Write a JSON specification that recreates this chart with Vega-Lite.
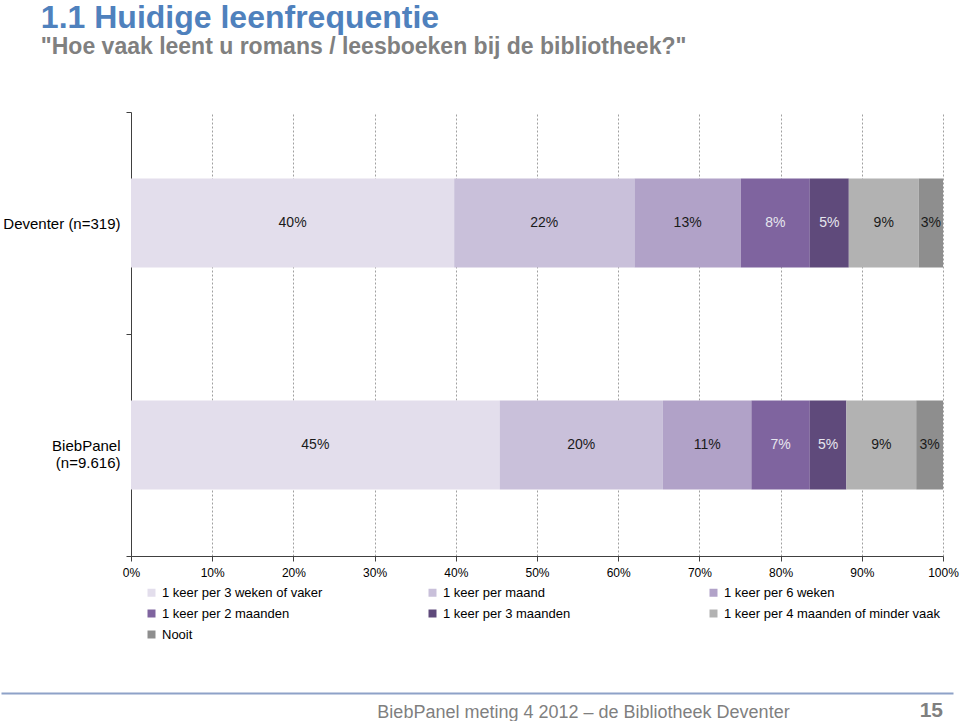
{
  "$schema": "https://vega.github.io/schema/vega-lite/v6.json",
  "padding": {"left": 2, "top": 2, "right": 0, "bottom": 0},
  "background": "white",
  "title": {
    "text": "1.1 Huidige leenfrequentie",
    "subtitle": "\"Hoe vaak leent u romans / leesboeken bij de bibliotheek?\"",
    "anchor": "start",
    "dx": 38,
    "offset": 45,
    "font": "Liberation Sans",
    "fontSize": 32,
    "fontWeight": "bold",
    "color": "#4F81BD",
    "subtitleFont": "Liberation Sans",
    "subtitleFontSize": 23,
    "subtitleFontWeight": "bold",
    "subtitleColor": "#808080",
    "subtitlePadding": 1
  },
  "spacing": 50,
  "resolve": {"legend": {"color": "independent"}},
  "vconcat": [
    {
      "width": 812,
      "height": 444,
      "data": {
        "values": [
          {"group": "Deventer (n=319)", "answer": "1 keer per 3 weken of vaker", "order": 1, "value": 39.8, "label": "40%"},
          {"group": "Deventer (n=319)", "answer": "1 keer per maand", "order": 2, "value": 22.2, "label": "22%"},
          {"group": "Deventer (n=319)", "answer": "1 keer per 6 weken", "order": 3, "value": 13.1, "label": "13%"},
          {"group": "Deventer (n=319)", "answer": "1 keer per 2 maanden", "order": 4, "value": 8.5, "label": "8%"},
          {"group": "Deventer (n=319)", "answer": "1 keer per 3 maanden", "order": 5, "value": 4.8, "label": "5%"},
          {"group": "Deventer (n=319)", "answer": "1 keer per 4 maanden of minder vaak", "order": 6, "value": 8.6, "label": "9%"},
          {"group": "Deventer (n=319)", "answer": "Nooit", "order": 7, "value": 3.0, "label": "3%"},
          {"group": "BiebPanel (n=9.616)", "answer": "1 keer per 3 weken of vaker", "order": 1, "value": 45.4, "label": "45%"},
          {"group": "BiebPanel (n=9.616)", "answer": "1 keer per maand", "order": 2, "value": 20.1, "label": "20%"},
          {"group": "BiebPanel (n=9.616)", "answer": "1 keer per 6 weken", "order": 3, "value": 10.9, "label": "11%"},
          {"group": "BiebPanel (n=9.616)", "answer": "1 keer per 2 maanden", "order": 4, "value": 7.2, "label": "7%"},
          {"group": "BiebPanel (n=9.616)", "answer": "1 keer per 3 maanden", "order": 5, "value": 4.5, "label": "5%"},
          {"group": "BiebPanel (n=9.616)", "answer": "1 keer per 4 maanden of minder vaak", "order": 6, "value": 8.6, "label": "9%"},
          {"group": "BiebPanel (n=9.616)", "answer": "Nooit", "order": 7, "value": 3.3, "label": "3%"}
        ]
      },
      "transform": [
        {"stack": "value", "groupby": ["group"], "sort": [{"field": "order", "order": "ascending"}], "offset": "normalize", "as": ["x0", "x1"]}
      ],
      "encoding": {
        "y": {
          "field": "group",
          "type": "nominal",
          "sort": ["Deventer (n=319)", "BiebPanel (n=9.616)"],
          "scale": {"paddingInner": 0, "paddingOuter": 0},
          "axis": {
            "title": null,
            "domainColor": "#404040",
            "tickColor": "#404040",
            "tickSize": 5,
            "tickBand": "extent",
            "labelFont": "Liberation Sans",
            "labelFontSize": 15,
            "labelColor": "#000000",
            "labelPadding": 6,
            "labelLimit": 200,
            "labelLineHeight": 17,
            "labelExpr": "datum.value == 'BiebPanel (n=9.616)' ? ['BiebPanel', '(n=9.616)'] : datum.value"
          }
        }
      },
      "layer": [
        {
          "mark": {"type": "bar", "height": {"band": 0.4}},
          "encoding": {
            "x": {
              "field": "x0",
              "type": "quantitative",
              "scale": {"domain": [0, 1], "nice": false},
              "axis": {
                "title": null,
                "format": ".0%",
                "values": [0, 0.1, 0.2, 0.3, 0.4, 0.5, 0.6, 0.7, 0.8, 0.9, 1],
                "grid": true,
                "gridDash": [2, 2],
                "gridColor": "#A0A0A0",
                "domainColor": "#404040",
                "tickColor": "#404040",
                "tickSize": 5,
                "labelFont": "Liberation Sans",
                "labelFontSize": 12,
                "labelColor": "#000000",
                "labelPadding": 6,
                "labelFlush": false
              }
            },
            "x2": {"field": "x1"},
            "color": {
              "field": "answer",
              "type": "nominal",
              "scale": {
                "domain": ["1 keer per 3 weken of vaker", "1 keer per maand", "1 keer per 6 weken", "1 keer per 2 maanden", "1 keer per 3 maanden", "1 keer per 4 maanden of minder vaak", "Nooit"],
                "range": ["#E3DEEC", "#C9C0DA", "#B1A2C8", "#7F649F", "#5F4A7B", "#B2B2B2", "#8E8E8E"]
              },
              "legend": {
                "orient": "none",
                "legendX": 14,
                "legendY": 474,
                "direction": "horizontal",
                "columns": 3,
                "title": null,
                "symbolType": "square",
                "symbolSize": 64,
                "symbolStrokeWidth": 0,
                "symbolOpacity": 1,
                "labelFont": "Liberation Sans",
                "labelFontSize": 13,
                "labelColor": "#000000",
                "labelOffset": 4,
                "labelLimit": 300,
                "columnPadding": 47,
                "rowPadding": 7,
                "gridAlign": "all"
              }
            }
          }
        },
        {
          "transform": [
            {"fold": ["x0", "x1"], "as": ["edge", "pos"]},
            {"aggregate": [{"op": "mean", "field": "pos", "as": "mid"}], "groupby": ["group", "answer", "label"]}
          ],
          "mark": {"type": "text", "font": "Liberation Sans", "fontSize": 14},
          "encoding": {
            "x": {"field": "mid", "type": "quantitative"},
            "text": {"field": "label"},
            "color": {
              "condition": {"test": "datum.answer == '1 keer per 2 maanden' || datum.answer == '1 keer per 3 maanden'", "value": "#E6E6EE"},
              "value": "#1A1A1A"
            }
          }
        }
      ]
    },
    {
      "width": 812,
      "height": 1,
      "data": {"values": []},
      "mark": {"type": "point", "opacity": 0},
      "encoding": {
        "x": {
          "field": "v",
          "type": "quantitative",
          "scale": {"domain": [0, 1], "nice": false, "range": [-130, 822]},
          "axis": {
            "orient": "bottom",
            "domainColor": "#8EA2C8",
            "domainWidth": 2,
            "ticks": false,
            "labels": false,
            "grid": false,
            "title": "BiebPanel meting 4 2012 – de Bibliotheek Deventer",
            "titleFont": "Liberation Sans",
            "titleFontSize": 18,
            "titleFontWeight": "normal",
            "titleColor": "#7F7F7F",
            "titleX": 452,
            "titleAnchor": "middle",
            "titlePadding": 10
          }
        }
      },
      "title": {
        "text": "15",
        "orient": "bottom",
        "anchor": "end",
        "frame": "group",
        "font": "Liberation Sans",
        "fontSize": 21,
        "fontWeight": "bold",
        "color": "#7F7F7F",
        "dx": 0,
        "dy": -25
      }
    }
  ],
  "config": {"view": {"stroke": null}, "font": "Liberation Sans"}
}
